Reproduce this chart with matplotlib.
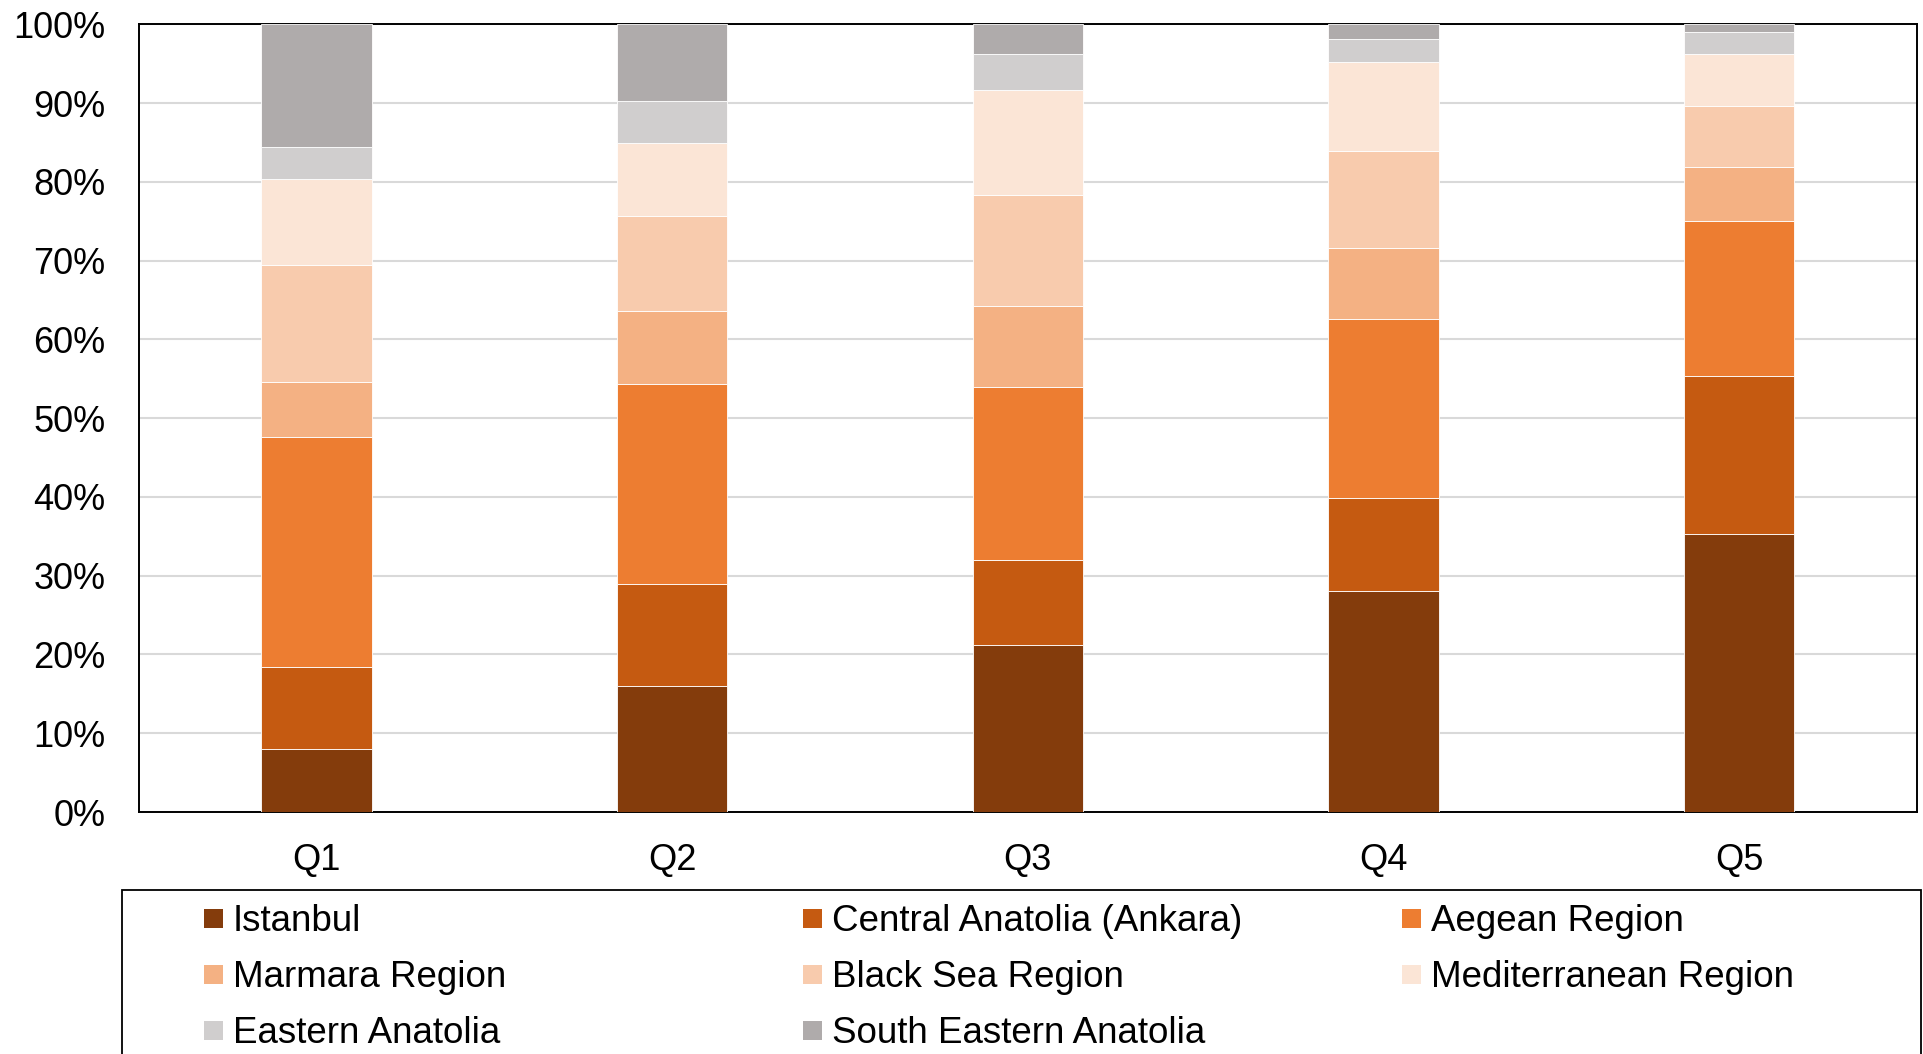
import numpy as np
import matplotlib
matplotlib.use('Agg')
import matplotlib.pyplot as plt
from matplotlib.patches import Rectangle

plt.rcParams['font.family'] = ['Liberation Sans', 'DejaVu Sans']

quintiles = ['Q1', 'Q2', 'Q3', 'Q4', 'Q5']
regions = ['Istanbul', 'Central Anatolia (Ankara)', 'Aegean Region',
           'Marmara Region', 'Black Sea Region', 'Mediterranean Region',
           'Eastern Anatolia', 'South Eastern Anatolia']

# shares (%) per quintile
istanbul = [8.0, 16.0, 21.2, 28.1, 35.3]
central = [10.4, 13.0, 10.8, 11.8, 20.1]
aegean = [29.2, 25.4, 22.0, 22.7, 19.7]
marmara = [7.0, 9.2, 10.2, 9.0, 6.8]
black_sea = [14.9, 12.1, 14.2, 12.3, 7.8]
mediterranean = [10.9, 9.3, 13.3, 11.3, 6.6]
eastern = [4.1, 5.3, 4.5, 2.9, 2.7]
south_eastern = [15.5, 9.7, 3.8, 1.9, 1.0]

series = [istanbul, central, aegean, marmara, black_sea,
          mediterranean, eastern, south_eastern]
colors = ['#843C0C', '#C55A11', '#ED7D31', '#F4B183', '#F8CBAD',
          '#FBE5D6', '#D0CECE', '#AFABAB']

W, H = 1923, 1054
fig = plt.figure(figsize=(W / 100, H / 100), dpi=100)
ax = fig.add_axes([0.0721, 0.2296, 0.9248, 0.7472])

x = np.arange(len(quintiles))
bottom = np.zeros(len(quintiles))
for vals, col in zip(series, colors):
    v = np.array(vals, dtype=float)
    ax.bar(x, v, 0.31, bottom=bottom, color=col, edgecolor='white',
           linewidth=0.6, zorder=3)
    bottom += v

ax.set_xlim(-0.5, len(quintiles) - 0.5)
ax.set_ylim(0, 100)
ax.set_yticks(np.arange(0, 101, 10))
ax.set_yticklabels([f'{t}%' for t in range(0, 101, 10)])
ax.set_xticks(x)
ax.set_xticklabels(quintiles)
ax.tick_params(axis='both', length=0, labelsize=26)
ax.tick_params(axis='y', pad=24)
ax.tick_params(axis='x', pad=22)
ax.yaxis.grid(True, color='#D9D9D9', linewidth=1.5, zorder=0)
ax.set_axisbelow(True)
for sp in ax.spines.values():
    sp.set_color('black')
    sp.set_linewidth(1.4)

# legend frame (runs off the bottom of the figure)
fig.patches.append(Rectangle((122 / W, -0.02), (1921 - 122) / W, 0.02 + 1 - 890 / H,
                             transform=fig.transFigure, fill=False,
                             edgecolor='black', linewidth=1.3))

# legend entries on Excel's even grid: 3 columns, rows top to bottom
col_x = [204, 803, 1402]
row_y = [918, 974, 1030]
sq = 19
for i, (name, col) in enumerate(zip(regions, colors)):
    cx = col_x[i % 3]
    cy = row_y[i // 3]
    fig.patches.append(Rectangle((cx / W, 1 - (cy + sq / 2) / H), sq / W, sq / H,
                                 transform=fig.transFigure, facecolor=col,
                                 edgecolor='none'))
    fig.text((cx + sq + 10) / W, 1 - (cy + 13) / H, name, fontsize=26.5,
             ha='left', va='baseline')

fig.savefig('out.png', dpi=100)
